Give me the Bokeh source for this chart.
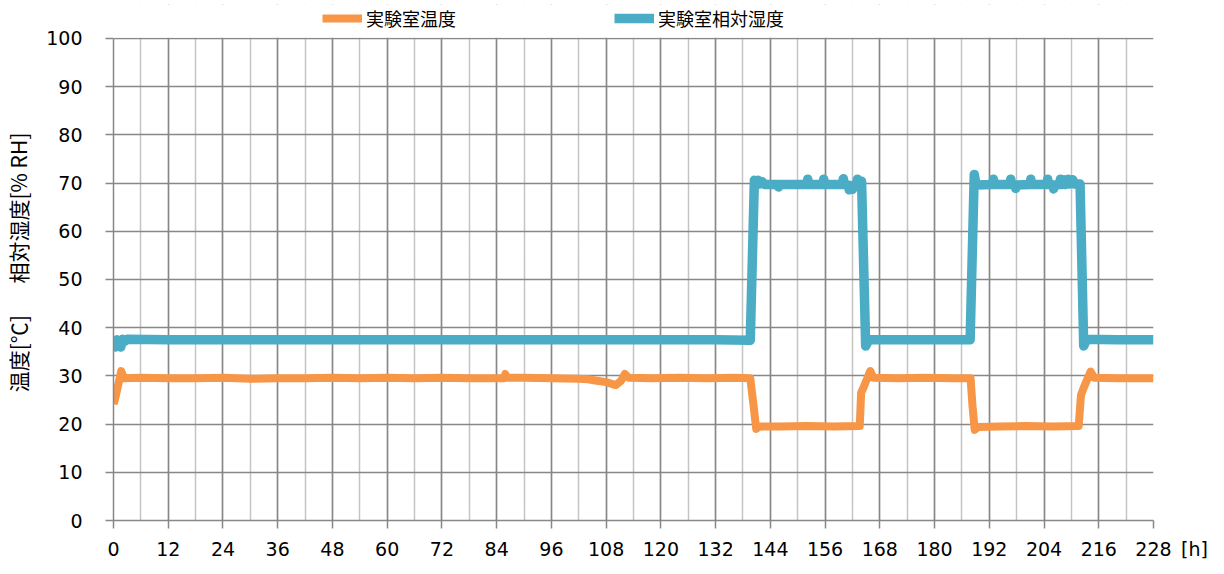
from bokeh.plotting import figure
from bokeh.models import Range1d, SingleIntervalTicker, Legend, LegendItem, BoxAnnotation
from bokeh.embed import file_html
from bokeh.resources import INLINE

# ---- data ----
temp_hours = [0, 0.3, 1.0, 1.7, 2.3, 6, 12, 18, 24, 30, 36, 42, 48, 54, 60, 66, 72, 78, 84,
              85.6, 85.9, 86.2, 90, 96, 102, 104, 106, 108, 110.1, 111.2, 112.1, 113, 118,
              124, 130, 136, 139.6, 140.3, 140.9, 141.6, 146, 152, 158, 163.6, 163.9, 164.6,
              165.9, 166.6, 172, 178, 184, 187.9, 188.3, 188.8, 189.5, 194, 200, 206, 211.6,
              212.1, 212.6, 214.2, 215.0, 220, 228]
temp_values = [24.2, 25.0, 28.0, 31.0, 29.5, 29.6, 29.5, 29.5, 29.6, 29.4, 29.5, 29.5, 29.6,
               29.5, 29.6, 29.5, 29.6, 29.5, 29.5, 29.5, 30.4, 29.6, 29.6, 29.5, 29.4, 29.3,
               29.0, 28.7, 28.1, 28.9, 30.4, 29.6, 29.5, 29.6, 29.5, 29.6, 29.5, 24.0, 19.0,
               19.5, 19.5, 19.6, 19.5, 19.6, 26.5, 28.0, 31.0, 29.6, 29.5, 29.6, 29.5, 29.5,
               24.0, 18.8, 19.4, 19.5, 19.6, 19.5, 19.6, 26.0, 27.3, 30.9, 29.6, 29.5, 29.5]

rh_hours = [0, 0.4, 0.8, 1.2, 1.6, 2.0, 2.5, 3.0, 12, 24, 36, 48, 60, 72, 84, 96, 108, 120,
            132, 139.6,
            140.5, 140.9, 141.3, 141.7, 142.2, 142.8, 145.6, 145.8, 146.0, 152.0, 152.2,
            152.4, 155.5, 155.7, 155.9, 159.8, 160.0, 160.2, 161.0, 161.3, 161.6, 162.0,
            162.3, 162.9, 163.1, 163.4, 164.0,
            164.9, 165.6, 172, 180, 187.8,
            188.7, 189.1, 192.7, 192.9, 193.1, 196.5, 196.7, 196.9, 197.6, 197.8, 198.0,
            200.9, 201.1, 201.3, 204.6, 204.8, 205.0, 205.9, 206.1, 206.3, 207.4, 207.6,
            207.8, 208.4, 208.7, 209.3, 209.6, 210.3, 210.6, 211.9,
            212.7, 213.4, 220, 228]
rh_values = [37.0, 36.0, 37.5, 36.2, 36.0, 37.6, 37.2, 37.6, 37.5, 37.5, 37.5, 37.5, 37.5,
             37.5, 37.5, 37.5, 37.5, 37.5, 37.5, 37.4,
             70.6, 69.9, 70.6, 69.8, 70.3, 69.7, 69.7, 69.2, 69.7, 69.7, 70.8,
             69.7, 69.7, 70.8, 69.7, 69.7, 70.9, 69.7, 69.6, 68.6, 69.5, 68.7,
             69.5, 69.7, 70.8, 69.8, 70.4,
             36.2, 37.5, 37.5, 37.5, 37.5,
             71.8, 69.6, 69.7, 70.8, 69.7, 69.7, 70.8, 69.7, 69.6, 68.9, 69.6,
             69.7, 70.8, 69.7, 69.7, 70.8, 69.7, 69.6, 68.8, 69.6, 69.7, 70.8,
             69.7, 70.7, 69.7, 70.8, 69.8, 70.7, 69.8, 69.8,
             36.2, 37.6, 37.5, 37.5]

x_ticks_interval = 12
y_ticks_interval = 10
x_last_tick = 228
y_top = 100
legend_labels = ["実験室温度", "実験室相対湿度"]
y_axis_label = "温度[℃]\u3000\u2002相対湿度[% RH]"
x_unit_label = "[h]"

ORANGE = "#F79646"
BLUE = "#4BACC6"
JP_FONT = "Noto Sans CJK JP"
NUM_FONT = "DejaVu Sans"

# the frame reaches a little above 100 so that the legend row lies inside it
p = figure(width=1224, height=574, output_backend="svg", toolbar_location=None,
           x_range=Range1d(0, 228), y_range=Range1d(0, 107.05),
           min_border_left=113, min_border_right=71, min_border_top=4,
           min_border_bottom=54)
p.title.visible = False
p.outline_line_color = None
p.background_fill_color = "white"

r_t = p.line(temp_hours, temp_values, line_color=ORANGE, line_width=8, line_join="round")
r_h = p.line(rh_hours, rh_values, line_color=BLUE, line_width=9.5, line_join="round")

xt = SingleIntervalTicker(interval=x_ticks_interval, num_minor_ticks=2)
p.xaxis.ticker = xt
p.xgrid.ticker = xt
yt = SingleIntervalTicker(interval=y_ticks_interval, num_minor_ticks=0)
p.yaxis.ticker = yt
p.ygrid.ticker = yt
p.yaxis.bounds = (0, y_top)

p.xgrid.grid_line_color = "#878787"
p.xgrid.grid_line_width = 1.5
p.xgrid.minor_grid_line_color = "#C4C4C4"
p.xgrid.minor_grid_line_width = 1.5
p.ygrid.grid_line_color = "#878787"
p.ygrid.grid_line_width = 1.5

for ax in (p.xaxis, p.yaxis):
    ax.axis_line_color = "#878787"
    ax.axis_line_width = 1.5
    ax.major_tick_line_color = "#878787"
    ax.major_tick_line_width = 1.5
    ax.major_tick_in = 0
    ax.major_tick_out = 8
    ax.minor_tick_line_color = None
    ax.major_label_text_font = NUM_FONT
    ax.major_label_text_font_size = "19px"
    ax.major_label_text_color = "black"

# the unit "[h]" sits after the last tick label; figure spaces keep "228" centred
p.xaxis.major_label_overrides = {
    x_last_tick: "\u2007\u2007\u2007" + str(x_last_tick) + "\u2002" + x_unit_label
}
p.xaxis.major_label_standoff = 9
p.yaxis.major_label_standoff = 23
p.yaxis.axis_label = y_axis_label
p.yaxis.axis_label_text_font = JP_FONT
p.yaxis.axis_label_text_font_size = "21px"
p.yaxis.axis_label_text_font_style = "normal"
p.yaxis.axis_label_text_color = "black"
p.yaxis.axis_label_standoff = 10

# blank band above the 100 line (hides the vertical grid lines there)
p.add_layout(BoxAnnotation(bottom=y_top + 0.15, fill_color="white", fill_alpha=1.0,
                           line_color=None))

legend = Legend(items=[LegendItem(label=legend_labels[0], renderers=[r_t]),
                       LegendItem(label=legend_labels[1], renderers=[r_h])],
                orientation="horizontal", location=(209, 489),
                glyph_width=40, glyph_height=24, label_height=24, label_standoff=4,
                spacing=158, padding=0, margin=0, border_line_color=None,
                background_fill_alpha=0, label_text_font=JP_FONT,
                label_text_font_size="18px", label_text_color="black")
p.add_layout(legend, "center")

open("out.html", "w").write(file_html(p, INLINE))
